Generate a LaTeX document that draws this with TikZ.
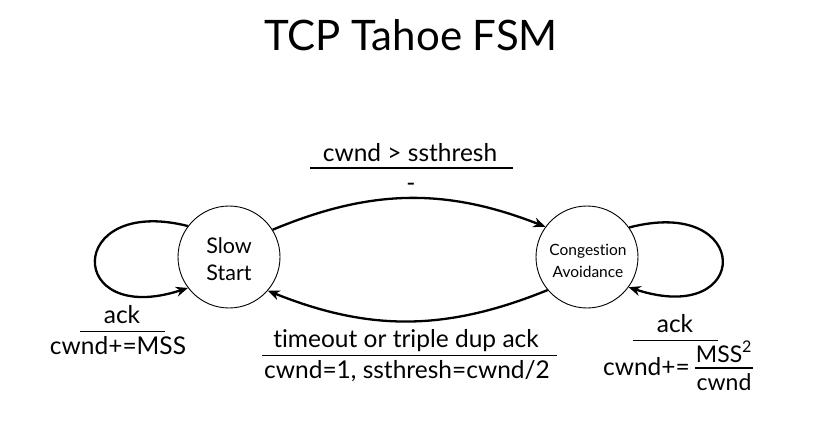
\documentclass[tikz,border=0pt]{standalone}
\usepackage{fontspec}
\setmainfont{Lato}[Ligatures=CommonOff]
\usetikzlibrary{arrows.meta}
\tikzset{
  state/.style={circle, draw, line width=0.9pt, minimum size=102pt, inner sep=0pt},
  lbl/.style={inner sep=0pt, anchor=base, font=\fontsize{24.5}{28}\selectfont},
  frac/.style={inner sep=0pt, anchor=base, font=\fontsize{23}{26}\selectfont},
  edge/.style={line width=2.3pt, -{Stealth[length=12pt,width=10pt]}},
  bar/.style={line width=1.3pt},
}
\begin{document}
\begin{tikzpicture}[x=1pt,y=-1pt]
\useasboundingbox (0,0) rectangle (825,441);
% title
\node[inner sep=0pt, anchor=base, font=\fontsize{42}{46}\selectfont] (title) at (411,51) {TCP Tahoe FSM};
% states
\node[state] (ss) at (229,257) {};
\node[state] (ca) at (587,257) {};
\node[lbl, font=\fontsize{21.5}{24}\selectfont] (ss1) at (229,253) {Slow};
\node[lbl, font=\fontsize{21.5}{24}\selectfont] (ss2) at (229,280) {Start};
\node[lbl, font=\fontsize{15.5}{18}\selectfont] (ca1) at (588,255) {Congestion};
\node[lbl, font=\fontsize{15.5}{18}\selectfont] (ca2) at (588,277) {Avoidance};
% transitions
\draw[edge] (ss.32) to[bend left=22] (ca.144);
\draw[edge] (ca.-140) to[bend left=22] (ss.-41);
\draw[edge] (ss.143) .. controls (65,195) and (65,328) .. (ss.-143);
\draw[edge] (ca.35) .. controls (753,195) and (753,328) .. (ca.-36);
% top label
\node[lbl] (t1) at (410,162) {cwnd > ssthresh};
\node[lbl] (t2) at (411,192) {-};
\draw[bar] (310,168) -- (513,168);
% bottom label
\node[lbl] (b1) at (406,347) {timeout or triple dup ack};
\node[lbl] (b2) at (407,378.5) {cwnd=1, ssthresh=cwnd/2};
\draw[bar] (262,355.5) -- (557,355.5);
% left loop label
\node[lbl] (l1) at (122,323) {ack};
\node[lbl] (l2) at (118,354.5) {cwnd+=MSS};
\draw[bar] (80,331.5) -- (165,331.5);
% right loop label
\node[lbl] (r1) at (675,332) {ack};
\draw[bar] (633,340.5) -- (718,340.5);
\node[lbl, anchor=base east] (r2) at (690,375) {cwnd+=};
\node[frac] (r3) at (724,362) {MSS\textsuperscript{2}};
\node[frac] (r4) at (724,390) {cwnd};
\draw[bar] (695,368) -- (753,368);
\end{tikzpicture}
\end{document}
